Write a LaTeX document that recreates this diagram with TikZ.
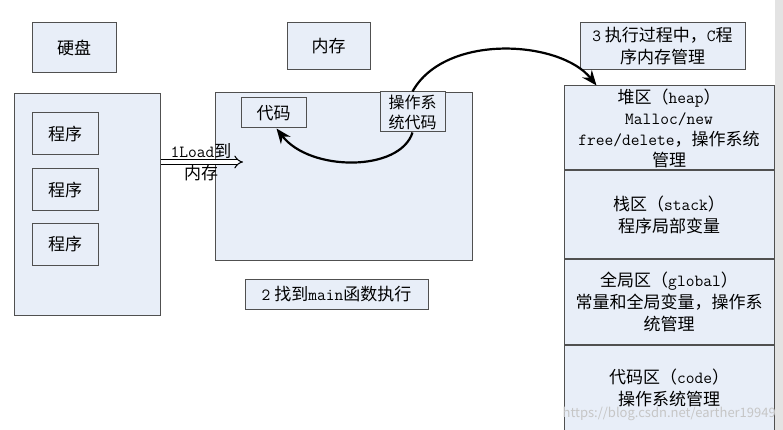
\documentclass[tikz,border=0pt]{standalone}
\usepackage{fontspec}
\setmainfont{Noto Sans CJK SC}
\usetikzlibrary{arrows.meta,positioning}
\definecolor{boxfill}{HTML}{E8EEF8}
\definecolor{boxline}{HTML}{505050}
\newcommand{\en}[1]{{\ttfamily #1}}
\tikzset{
    every picture/.style={
        x=1pt,y=-1pt,node distance=0pt,
        box/.style={draw=boxline,fill=boxfill,line width=1pt,inner sep=0pt,
            align=center,font=\fontsize{17}{22}\selectfont},
        lbl/.style={inner sep=0pt,font=\fontsize{17}{22}\selectfont},
        flow/.style={line width=2.2pt,-{Stealth[length=15pt,width=12pt]}},
        load/.style={line width=1pt,double=white,double distance=3.5pt,
            -{Implies[length=7pt]}}
    }
}

\begin{document}
\begin{tikzpicture}
    \useasboundingbox (0,0) rectangle (783,430);
    \fill[gray!22] (775,0) rectangle (783,430);
    % top labels
    \node[box,minimum width=84pt,minimum height=50pt]  (disk)  at (74,48)      {硬盘};
    \node[box,minimum width=83pt,minimum height=47pt]  (mem)   at (328.5,46.5) {内存};
    \node[box,minimum width=165pt,minimum height=47pt] (step3) at (662.5,46.5)
        {\en{3} 执行过程中，\en{C}程\\序内存管理};
    % disk
    \node[box,minimum width=146pt,minimum height=221pt] (diskbox) at (87,204.5) {};
    \node[box,minimum width=66pt,minimum height=42pt] (p1) at (65,134) {程序};
    \node[box,minimum width=66pt,minimum height=42pt] (p2) [below=13pt of p1] {程序};
    \node[box,minimum width=66pt,minimum height=42pt] (p3) [below=11pt of p2] {程序};
    % memory
    \node[box,minimum width=257pt,minimum height=167pt] (membox) at (343.5,176.5) {};
    \node[box,minimum width=65pt,minimum height=30pt] (code) at (273.5,113) {代码};
    \node[box,minimum width=65pt,minimum height=40pt,font=\fontsize{16}{20}\selectfont]
        (os) at (412.5,112) {操作系\\统代码};
    \node[box,minimum width=183pt,minimum height=30pt] (find) at (336.5,294)
        {\en{2} 找到\en{main}函数执行};
    % C memory areas
    \node[box,minimum width=210pt,minimum height=84pt,font=\fontsize{17}{21}\selectfont]
        (heap) at (669,128)
        {堆区（\en{heap}）\\\en{Malloc/new}\\\en{free/delete}，操作系统\\管理};
    \node[box,minimum width=210pt,minimum height=87pt] (stack)  [below=of heap]
        {栈区（\en{stack}）\\程序局部变量};
    \node[box,minimum width=210pt,minimum height=85pt] (global) [below=of stack]
        {全局区（\en{global}）\\常量和全局变量，操作系\\统管理};
    \node[box,minimum width=210pt,minimum height=85pt] (text)   [below=of global]
        {代码区（\en{code}）\\操作系统管理};
    \node[anchor=east,inner sep=0pt,text=gray!45,font=\fontsize{13}{15}\selectfont]
        (mark) at (776,414) {https://blog.csdn.net/earther19949};
    % arrows
    \coordinate (loadend) at (243,162);
    \draw[load] (diskbox.east |- loadend) -- (loadend);
    \node[lbl] (loadtop) at (201,151) {\en{1Load}到};
    \node[lbl] (loadbot) at (201,173) {内存};
    \coordinate (heaptip) at ([xshift=33pt]heap.north west);
    \draw[flow] (os.south) .. controls (400,172) and (310,172) .. ([xshift=3pt]code.south);
    \draw[flow] (os.north) .. controls (445,33) and (560,40) .. (heaptip);
\end{tikzpicture}
\end{document}
